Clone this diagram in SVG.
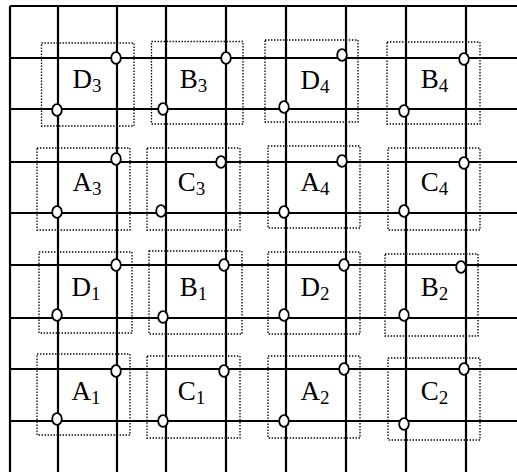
<svg xmlns="http://www.w3.org/2000/svg" width="517" height="472" viewBox="0 0 517 472">
<style>
.g{stroke:#000;stroke-width:2.2;fill:none}
.d{stroke:#000;stroke-width:1.3;stroke-dasharray:1.4 1.6;fill:none}
.c{stroke:#000;stroke-width:1.8;fill:#fff}
.t{font-family:"Liberation Serif","Times New Roman",serif;font-size:27px;fill:#000;text-anchor:middle}
.s{font-size:19px}
</style>
<rect width="517" height="472" fill="#fff"/>
<g id="grid" class="g">
<path d="M10,6V472M58,6V472M117,6V472M166,6V472M226,6V472M286,6V472M346,6V472M406,6V472M466,6V472"/>
<path d="M10,6H517M10,58H517M10,109H517M10,162H517M10,213H517M10,265H517M10,318H517M10,369H517M10,421H517"/>
</g>
<g id="D3"><rect class="d" x="41.5" y="43" width="92.5" height="83"/><text class="t" x="87" y="88">D<tspan class="s" dy="4">3</tspan></text></g>
<g id="B3"><rect class="d" x="151.5" y="41.5" width="91.5" height="82.5"/><text class="t" x="193.5" y="88">B<tspan class="s" dy="4">3</tspan></text></g>
<g id="D4"><rect class="d" x="265" y="40" width="93" height="82"/><text class="t" x="315" y="89">D<tspan class="s" dy="4">4</tspan></text></g>
<g id="B4"><rect class="d" x="387" y="42" width="93" height="82"/><text class="t" x="434.5" y="88">B<tspan class="s" dy="4">4</tspan></text></g>
<g id="A3"><rect class="d" x="37" y="148" width="93" height="82"/><text class="t" x="87" y="191">A<tspan class="s" dy="4">3</tspan></text></g>
<g id="C3"><rect class="d" x="147" y="148" width="93" height="82"/><text class="t" x="191.5" y="191">C<tspan class="s" dy="4">3</tspan></text></g>
<g id="A4"><rect class="d" x="268" y="146" width="92" height="82"/><text class="t" x="315" y="191">A<tspan class="s" dy="4">4</tspan></text></g>
<g id="C4"><rect class="d" x="388" y="148" width="92" height="82"/><text class="t" x="434.5" y="191">C<tspan class="s" dy="4">4</tspan></text></g>
<g id="D1"><rect class="d" x="39" y="252" width="93" height="81"/><text class="t" x="86" y="296">D<tspan class="s" dy="4">1</tspan></text></g>
<g id="B1"><rect class="d" x="149" y="251" width="93" height="83"/><text class="t" x="193.5" y="296">B<tspan class="s" dy="4">1</tspan></text></g>
<g id="D2"><rect class="d" x="268" y="252" width="92" height="82"/><text class="t" x="315" y="296">D<tspan class="s" dy="4">2</tspan></text></g>
<g id="B2"><rect class="d" x="385" y="254" width="93" height="82"/><text class="t" x="434.5" y="296">B<tspan class="s" dy="4">2</tspan></text></g>
<g id="A1"><rect class="d" x="37" y="354" width="93" height="81"/><text class="t" x="86" y="400">A<tspan class="s" dy="4">1</tspan></text></g>
<g id="C1"><rect class="d" x="147" y="356" width="93" height="82"/><text class="t" x="191.5" y="400">C<tspan class="s" dy="4">1</tspan></text></g>
<g id="A2"><rect class="d" x="268" y="356" width="92" height="82"/><text class="t" x="315" y="400">A<tspan class="s" dy="4">2</tspan></text></g>
<g id="C2"><rect class="d" x="388" y="358" width="92" height="82"/><text class="t" x="434.5" y="400">C<tspan class="s" dy="4">2</tspan></text></g>
<g id="connectors" class="c">
<ellipse cx="116" cy="58" rx="4.8" ry="5.8"/><ellipse cx="57" cy="110" rx="4.8" ry="5.8"/>
<ellipse cx="226" cy="58" rx="4.8" ry="5.8"/><ellipse cx="163" cy="109" rx="4.8" ry="5.8"/>
<ellipse cx="342" cy="55" rx="4.8" ry="5.8"/><ellipse cx="284" cy="107" rx="4.8" ry="5.8"/>
<ellipse cx="464" cy="59" rx="4.8" ry="5.8"/><ellipse cx="404" cy="111" rx="4.8" ry="5.8"/>
<ellipse cx="116" cy="159" rx="4.8" ry="5.8"/><ellipse cx="57" cy="212" rx="4.8" ry="5.8"/>
<ellipse cx="221" cy="162" rx="4.8" ry="5.8"/><ellipse cx="161" cy="211" rx="4.8" ry="5.8"/>
<ellipse cx="342" cy="161" rx="4.8" ry="5.8"/><ellipse cx="284" cy="212" rx="4.8" ry="5.8"/>
<ellipse cx="464" cy="163" rx="4.8" ry="5.8"/><ellipse cx="404" cy="211" rx="4.8" ry="5.8"/>
<ellipse cx="116" cy="265" rx="4.8" ry="5.8"/><ellipse cx="57" cy="315" rx="4.8" ry="5.8"/>
<ellipse cx="224" cy="265" rx="4.8" ry="5.8"/><ellipse cx="163" cy="317" rx="4.8" ry="5.8"/>
<ellipse cx="344" cy="265" rx="4.8" ry="5.8"/><ellipse cx="284" cy="315" rx="4.8" ry="5.8"/>
<ellipse cx="461" cy="267" rx="4.8" ry="5.8"/><ellipse cx="404" cy="315" rx="4.8" ry="5.8"/>
<ellipse cx="116" cy="371" rx="4.8" ry="5.8"/><ellipse cx="57" cy="419" rx="4.8" ry="5.8"/>
<ellipse cx="224" cy="371" rx="4.8" ry="5.8"/><ellipse cx="163" cy="421" rx="4.8" ry="5.8"/>
<ellipse cx="344" cy="369" rx="4.8" ry="5.8"/><ellipse cx="284" cy="421" rx="4.8" ry="5.8"/>
<ellipse cx="464" cy="369" rx="4.8" ry="5.8"/><ellipse cx="404" cy="424" rx="4.8" ry="5.8"/>
</g>
</svg>
